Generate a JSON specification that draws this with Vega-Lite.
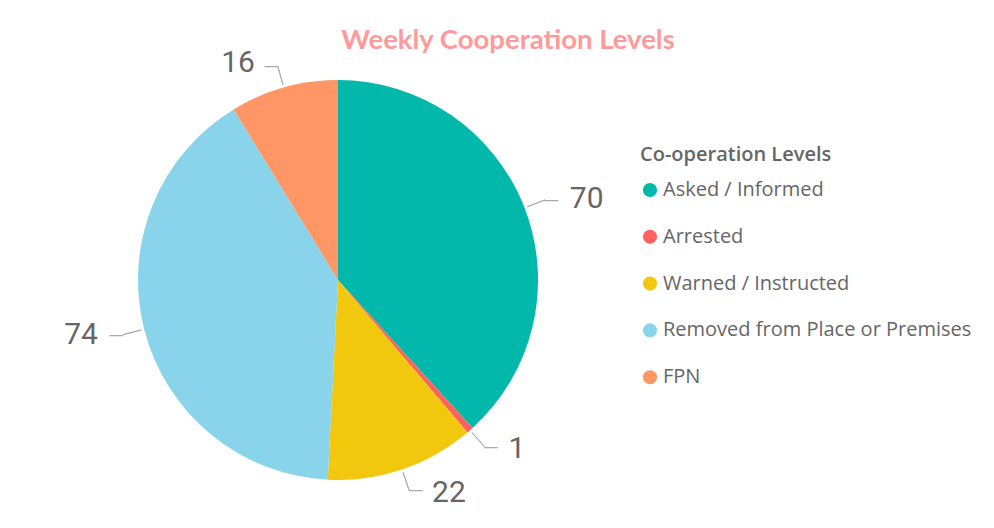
{
  "$schema": "https://vega.github.io/schema/vega-lite/v6.json",
  "width": 400,
  "height": 400,
  "autosize": {"type": "none"},
  "padding": {"left": 138, "top": 80, "right": 456, "bottom": 48},
  "background": "white",
  "title": {
    "text": "Weekly Cooperation Levels",
    "font": "Lato",
    "fontSize": 27.5,
    "fontWeight": "bold",
    "color": "#FF9A9A",
    "anchor": "middle",
    "frame": "group",
    "baseline": "alphabetic",
    "dx": 170,
    "offset": -28
  },
  "data": {
    "values": [
      {"level": "Asked / Informed", "count": 70},
      {"level": "Arrested", "count": 1},
      {"level": "Warned / Instructed", "count": 22},
      {"level": "Removed from Place or Premises", "count": 74},
      {"level": "FPN", "count": 16}
    ]
  },
  "transform": [
    {"window": [{"op": "row_number", "as": "idx"}]},
    {"joinaggregate": [{"op": "sum", "field": "count", "as": "total"}]},
    {"window": [{"op": "sum", "field": "count", "as": "cum"}], "sort": [{"field": "idx"}], "frame": [null, 0]},
    {"calculate": "2 * PI * (datum.cum - datum.count / 2) / datum.total", "as": "midAngle"}
  ],
  "layer": [
    {
      "mark": {"type": "arc", "outerRadius": 200},
      "encoding": {
        "theta": {"field": "count", "type": "quantitative", "stack": true},
        "order": {"field": "idx", "type": "quantitative"},
        "color": {
          "field": "level",
          "type": "nominal",
          "sort": null,
          "scale": {
            "domain": ["Asked / Informed", "Arrested", "Warned / Instructed", "Removed from Place or Premises", "FPN"],
            "range": ["#01B8AA", "#FD625E", "#F2C80F", "#8AD4EB", "#FE9666"]
          },
          "legend": {
            "title": "Co-operation Levels",
            "orient": "none",
            "legendX": 502,
            "legendY": 65,
            "symbolType": "circle",
            "symbolSize": 200,
            "symbolStrokeWidth": 0,
            "labelFont": "Open Sans",
            "labelFontSize": 20,
            "labelColor": "#666666",
            "labelOffset": 3,
            "labelLimit": 400,
            "titleFont": "Open Sans",
            "titleFontSize": 20,
            "titleFontWeight": 600,
            "titleColor": "#666666",
            "titleLimit": 400,
            "titlePadding": 15,
            "rowPadding": 26.8,
            "padding": 0
          }
        }
      }
    },
    {
      "mark": {"type": "arc", "filled": false, "color": "#AAAAAA", "strokeWidth": 1},
      "encoding": {
        "theta": {"field": "midAngle", "type": "quantitative", "scale": null},
        "theta2": {"field": "midAngle"},
        "radius": {"value": 222},
        "radius2": {"value": 203}
      }
    },
    {
      "transform": [{"filter": "sin(datum.midAngle) > 0"}],
      "layer": [
        {
          "mark": {"type": "text", "font": "DejaVu Sans", "fontSize": 15, "color": "#AAAAAA", "align": "left", "dx": -1},
          "encoding": {
            "theta": {"field": "midAngle", "type": "quantitative", "scale": null},
            "radius": {"value": 222},
            "text": {"value": "—"}
          }
        },
        {
          "mark": {"type": "text", "font": "Roboto", "fontSize": 30, "color": "#666666", "align": "left", "dx": 22},
          "encoding": {
            "theta": {"field": "midAngle", "type": "quantitative", "scale": null},
            "radius": {"value": 225},
            "text": {"field": "count", "type": "quantitative"}
          }
        }
      ]
    },
    {
      "transform": [{"filter": "sin(datum.midAngle) <= 0"}],
      "layer": [
        {
          "mark": {"type": "text", "font": "DejaVu Sans", "fontSize": 15, "color": "#AAAAAA", "align": "right", "dx": 1},
          "encoding": {
            "theta": {"field": "midAngle", "type": "quantitative", "scale": null},
            "radius": {"value": 222},
            "text": {"value": "—"}
          }
        },
        {
          "mark": {"type": "text", "font": "Roboto", "fontSize": 30, "color": "#666666", "align": "right", "dx": -22},
          "encoding": {
            "theta": {"field": "midAngle", "type": "quantitative", "scale": null},
            "radius": {"value": 225},
            "text": {"field": "count", "type": "quantitative"}
          }
        }
      ]
    }
  ]
}
